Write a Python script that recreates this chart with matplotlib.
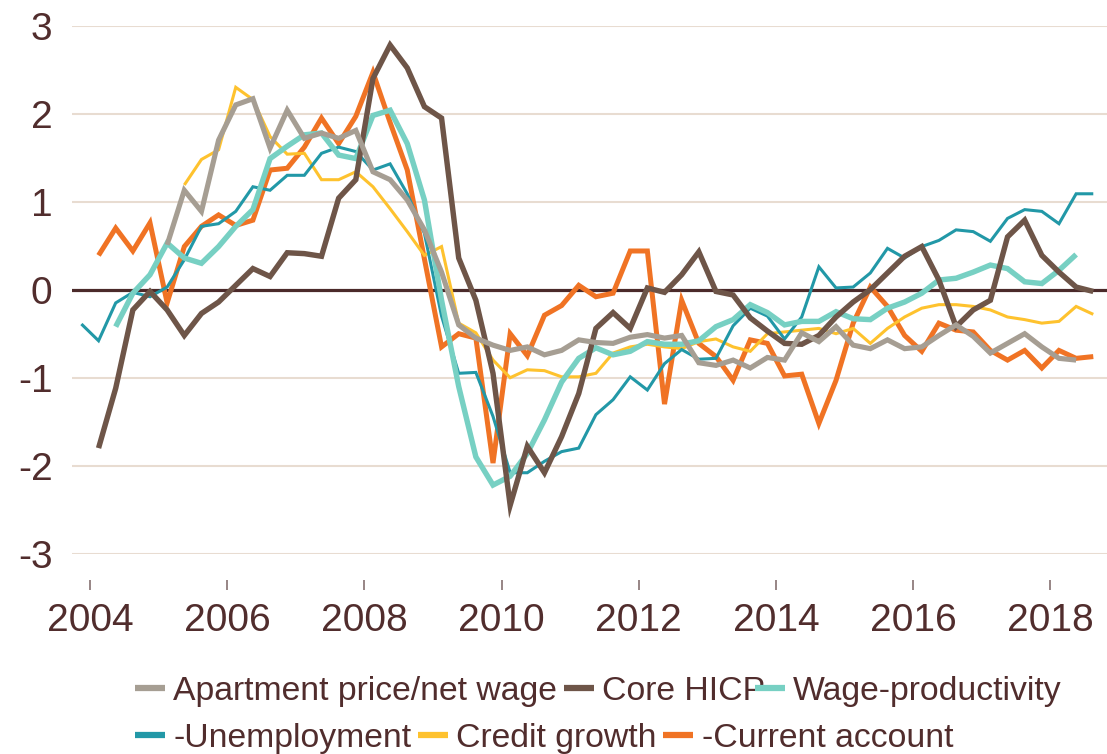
import numpy as np
import pandas as pd
import matplotlib
matplotlib.use('Agg')
import matplotlib.pyplot as plt

plt.rcParams['font.family'] = ['Liberation Sans', 'DejaVu Sans']

# --- Data (quarterly) ---
apartment_start = '2005Q1'
apartment = [0.51, 1.13, 0.89, 1.70, 2.10, 2.17, 1.61, 2.04, 1.72, 1.78, 1.72, 1.81,
             1.34, 1.25, 1.02, 0.68, 0.20, -0.40, -0.55, -0.63, -0.69, -0.65, -0.74, -0.69,
             -0.57, -0.60, -0.61, -0.54, -0.51, -0.55, -0.52, -0.83, -0.86, -0.80, -0.89, -0.77,
             -0.80, -0.49, -0.59, -0.42, -0.63, -0.67, -0.57, -0.67, -0.65, -0.52, -0.40, -0.53,
             -0.72, -0.61, -0.50, -0.65, -0.78, -0.80]

core_hicp_start = '2004Q1'
core_hicp = [-1.80, -1.12, -0.23, -0.02, -0.23, -0.52, -0.27, -0.14, 0.05, 0.24, 0.15, 0.42,
             0.41, 0.38, 1.04, 1.25, 2.40, 2.78, 2.52, 2.08, 1.95, 0.36, -0.12, -0.95,
             -2.45, -1.78, -2.08, -1.67, -1.18, -0.44, -0.26, -0.44, 0.02, -0.03, 0.17, 0.43,
             -0.02, -0.06, -0.32, -0.47, -0.61, -0.62, -0.52, -0.31, -0.14, 0.00, 0.19, 0.38,
             0.49, 0.11, -0.42, -0.23, -0.12, 0.60, 0.79, 0.39, 0.20, 0.03, -0.02]

wage_prod_start = '2004Q2'
wage_prod = [-0.42, -0.04, 0.17, 0.53, 0.36, 0.30, 0.49, 0.72, 0.91, 1.49, 1.63, 1.76,
             1.78, 1.53, 1.49, 1.98, 2.04, 1.66, 1.02, -0.12, -1.10, -1.90, -2.22, -2.12,
             -1.86, -1.48, -1.05, -0.78, -0.66, -0.74, -0.70, -0.59, -0.62, -0.62, -0.58, -0.42,
             -0.34, -0.17, -0.26, -0.40, -0.36, -0.36, -0.25, -0.33, -0.34, -0.21, -0.14, -0.04,
             0.11, 0.13, 0.20, 0.28, 0.24, 0.09, 0.07, 0.22, 0.40]

unemployment_start = '2003Q4'
unemployment = [-0.39, -0.58, -0.15, -0.03, -0.08, 0.03, 0.34, 0.72, 0.75, 0.89, 1.17, 1.13,
                1.30, 1.30, 1.55, 1.62, 1.57, 1.36, 1.43, 1.09, 0.64, -0.30, -0.95, -0.94,
                -1.44, -2.08, -2.08, -1.95, -1.84, -1.80, -1.42, -1.25, -0.99, -1.14, -0.84, -0.68,
                -0.79, -0.78, -0.41, -0.21, -0.30, -0.56, -0.31, 0.26, 0.02, 0.03, 0.19, 0.47,
                0.36, 0.49, 0.56, 0.68, 0.66, 0.55, 0.81, 0.91, 0.89, 0.75, 1.09, 1.09]

credit_start = '2005Q2'
credit = [1.19, 1.48, 1.59, 2.30, 2.16, 1.74, 1.54, 1.55, 1.25, 1.25, 1.34, 1.17,
          0.92, 0.66, 0.39, 0.49, -0.38, -0.49, -0.80, -1.00, -0.91, -0.92, -0.99, -0.99,
          -0.95, -0.72, -0.65, -0.62, -0.65, -0.67, -0.59, -0.56, -0.65, -0.70, -0.50, -0.48,
          -0.46, -0.44, -0.50, -0.44, -0.61, -0.44, -0.31, -0.21, -0.17, -0.17, -0.19, -0.23,
          -0.31, -0.34, -0.38, -0.36, -0.19, -0.28]

current_acc_start = '2004Q1'
current_acc = [0.39, 0.70, 0.44, 0.76, -0.15, 0.49, 0.72, 0.85, 0.73, 0.79, 1.36, 1.38,
               1.62, 1.95, 1.66, 1.97, 2.47, 1.90, 1.36, 0.35, -0.65, -0.50, -0.55, -1.97,
               -0.50, -0.75, -0.29, -0.18, 0.05, -0.08, -0.04, 0.44, 0.44, -1.30, -0.12, -0.61,
               -0.76, -1.03, -0.57, -0.61, -0.98, -0.96, -1.52, -1.03, -0.38, 0.03, -0.19, -0.52,
               -0.70, -0.38, -0.46, -0.48, -0.69, -0.80, -0.69, -0.89, -0.69, -0.78, -0.76]

year_ticks = [2004, 2006, 2008, 2010, 2012, 2014, 2016, 2018]
y_ticks = [-3, -2, -1, 0, 1, 2, 3]


def quarter_x(start, n):
    # mid-quarter position in decimal years
    p = pd.period_range(start, periods=n, freq='Q')
    return p.year + (p.quarter - 0.5) / 4.0


text_col = '#512d2d'

fig = plt.figure(figsize=(11.07, 7.54), dpi=100)
ax = fig.add_axes([72 / 1107, (754 - 553.7) / 754, 1 - 72 / 1107, 528 / 754])

# gridlines and zero line
for yv in y_ticks:
    if yv != 0:
        ax.axhline(yv, color='#e8dcd1', lw=1.5, zorder=0)
ax.axhline(0, color='#4b2a2a', lw=2.3, zorder=1)

# --- Series (drawn with gray on top) ---
series = [
    ('-Current account', current_acc_start, current_acc, '#f07324', 3.6),
    ('Credit growth', credit_start, credit, '#fec22e', 2.2),
    ('-Unemployment', unemployment_start, unemployment, '#2298a7', 2.2),
    ('Wage-productivity', wage_prod_start, wage_prod, '#77d0c3', 3.9),
    ('Core HICP', core_hicp_start, core_hicp, '#6e5548', 3.9),
    ('Apartment price/net wage', apartment_start, apartment, '#a69e93', 3.7),
]
handles = {}
for i, (name, start, vals, col, lw) in enumerate(series):
    x = quarter_x(start, len(vals))
    line, = ax.plot(x, vals, color=col, lw=lw, label=name, zorder=2 + i,
                    solid_joinstyle='miter', solid_capstyle='butt')
    handles[name] = line

ax.set_xlim(2003.738, 2018.825)
ax.set_ylim(-3, 3)

for s in ax.spines.values():
    s.set_visible(False)
ax.spines['bottom'].set_position(('outward', 19))

ax.set_yticks(y_ticks)
ax.set_yticklabels([str(v) for v in y_ticks])
ax.tick_params(axis='y', length=0, pad=14, labelsize=28, labelcolor=text_col)
ax.set_xticks(year_ticks)
ax.set_xticklabels([str(v) for v in year_ticks])
ax.tick_params(axis='x', length=7.2, width=1.1, color='#7b6464', pad=9,
               labelsize=28, labelcolor=text_col)

# --- Legend: flowing rows (the third item of row 1 sits a bit left, as in the original) ---
row1a = ['Apartment price/net wage', 'Core HICP']
row1b = ['Wage-productivity']
row2 = ['-Unemployment', 'Credit growth', '-Current account']
leg_kw = dict(ncol=3, frameon=False, fontsize=24.3, handlelength=0.89,
              handletextpad=0.24, columnspacing=0.2, borderpad=0,
              borderaxespad=0, labelcolor=text_col, loc='center left')
legs = [
    fig.legend([handles[n] for n in row1a], row1a,
               bbox_to_anchor=(135 / 1107, (754 - 691.7) / 754), **leg_kw),
    fig.legend([handles[n] for n in row1b], row1b,
               bbox_to_anchor=(755 / 1107, (754 - 691.7) / 754), **leg_kw),
    fig.legend([handles[n] for n in row2], row2,
               bbox_to_anchor=(135 / 1107, (754 - 738.3) / 754), **leg_kw),
]
for leg in legs:
    for h in leg.legend_handles:
        h.set_linewidth(4.5)

fig.savefig('out.png', dpi=100)
